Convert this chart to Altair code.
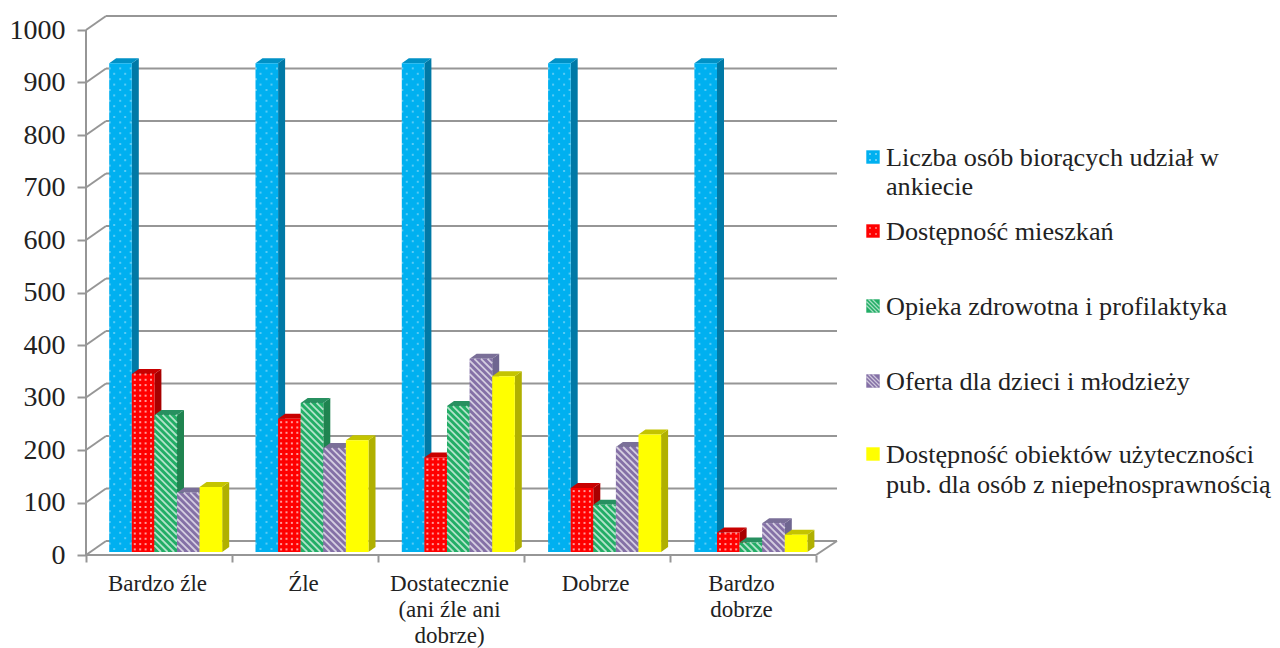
import altair as alt
import pandas as pd

categories = ["Bardzo źle", "Źle", "Dostatecznie (ani źle ani dobrze)", "Dobrze", "Bardzo dobrze"]
series_names = ["Liczba osób biorących udział w ankiecie", "Dostępność mieszkań", "Opieka zdrowotna i profilaktyka",
                "Oferta dla dzieci i młodzieży", "Dostępność obiektów użyteczności pub. dla osób z niepełnosprawnością"]
liczba = [931, 931, 931, 931, 931]
mieszkan = [339, 254, 180, 122, 37]
opieka = [261, 284, 278, 90, 18]
oferta = [113, 198, 368, 200, 55]
obiekty = [124, 213, 335, 224, 33]
all_values = [liczba, mieszkan, opieka, oferta, obiekty]

front = ["#00b0f0", "#ff0000", "#22ad66", "#8470a6", "#ffff00"]
side = ["#0079a6", "#a80000", "#1f8450", "#6f6690", "#b0b000"]
top = ["#0091c6", "#c80000", "#279060", "#7a6f98", "#c4c400"]
textures = ["dots_wide", "dots", "stripes", "stripes", None]
legend_rows = [[("Liczba osób biorących udział w", 158), ("ankiecie", 187)],
               [("Dostępność mieszkań", 232)],
               [("Opieka zdrowotna i profilaktyka", 307)],
               [("Oferta dla dzieci i młodzieży", 382)],
               [("Dostępność obiektów użyteczności", 455), ("pub. dla osób z niepełnosprawnością", 485)]]

GRAY = "#969696"
FONT = "Liberation Serif"
PX_X = 146.0      # pixels per category
PX_Y = 0.525      # pixels per value unit
W, H = 751, 540
OX, OY = 86, 555  # page position of the front origin
XMAX, YMAX = W / PX_X, H / PX_Y
DX, DY = 7 / PX_X, 5 / PX_Y
WALL_X, WALL_Y = 20 / PX_X, 14 / PX_Y
BAR_W = 22.6 / PX_X
BAR_START = 23.2 / PX_X
BASE = 3 / PX_Y

xs = alt.Scale(domain=[0, XMAX], nice=False, zero=False)
ys = alt.Scale(domain=[0, YMAX], nice=False, zero=False)

label_expr = ("[['Bardzo źle'],['Źle'],['Dostatecznie','(ani źle ani','dobrze)'],"
              "['Dobrze'],['Bardzo','dobrze']][datum.value] || ''")
x_axis = alt.Axis(
    values=[0, 1, 2, 3, 4, 5], domain=False, grid=False, tickColor=GRAY, tickWidth=2, tickSize=7, title=None,
    labelFont=FONT, labelFontSize=23, labelColor="#222222", labelOffset=71, labelPadding=10,
    labelBound=False, labelFlush=False, labelOverlap=False, labelLineHeight=26, labelExpr=label_expr)
y_axis = alt.Axis(
    values=list(range(0, 1001, 100)), domain=False, grid=False, tickColor=GRAY, tickWidth=2, tickSize=9, title=None,
    labelFont=FONT, labelFontSize=28, labelColor="#222222", labelPadding=12, labelOverlap=False,
    labelBound=False, labelFlush=False, format="d")


def X(f="x"):
    return alt.X(f, type="quantitative", scale=xs, axis=x_axis)


def Y(f="y"):
    return alt.Y(f, type="quantitative", scale=ys, axis=y_axis, stack=None)


# frame
lines = []
for v in range(0, 1001, 100):
    lines.append(dict(x=0, x2=WALL_X, y=v, y2=v + WALL_Y))
    lines.append(dict(x=WALL_X, x2=XMAX, y=v + WALL_Y, y2=v + WALL_Y))
lines.append(dict(x=0, x2=0, y=0, y2=1000))
lines.append(dict(x=0, x2=5, y=0, y2=0))
lines.append(dict(x=5, x2=XMAX, y=0, y2=WALL_Y))
frame = alt.Chart(pd.DataFrame(lines)).mark_rule(color=GRAY, strokeWidth=2).encode(
    x=X(), x2="x2", y=Y(), y2="y2")

layers = [frame]

# bars, painted left to right so that each front hides the previous side face
for s, values in enumerate(all_values):
    faces_side, faces_top, fronts, rules, dots = [], [], [], [], []
    for c, v in enumerate(values):
        x0 = c * (PX_X + 0.3) / PX_X + BAR_START + s * BAR_W
        x1 = x0 + BAR_W
        yb, yt = BASE, BASE + v
        k = f"{c}-{s}"
        faces_side += [dict(k=k, x=x1, y=yb, y2=yt), dict(k=k, x=x1 + DX, y=yb + DY, y2=yt + DY)]
        faces_top += [dict(k=k, x=x0, y=yt, y2=yt), dict(k=k, x=x0 + DX, y=yt, y2=yt + DY),
                      dict(k=k, x=x1, y=yt, y2=yt + DY), dict(k=k, x=x1 + DX, y=yt + DY, y2=yt + DY)]
        fronts.append(dict(x=x0, x2=x1, y=yb, y2=yt))

        # surface texture, in pixel steps
        px_w, px_h = BAR_W * PX_X, v * PX_Y
        if textures[s] == "stripes":
            step = 6.6
            d = step
            while d < px_w + px_h:
                ax = min(d, px_w)
                bx = max(0.0, d - px_h)
                rules.append(dict(x=x0 + ax / PX_X, y=yb + (d - ax) / PX_Y,
                                  x2=x0 + bx / PX_X, y2=yb + (d - bx) / PX_Y))
                d += step
        elif textures[s] == "dots":
            w = 2.6
            while w < px_h:
                for u in (3.0, 8.4, 13.8, 19.2):
                    dots.append(dict(x=x0 + u / PX_X, y=yb + w / PX_Y))
                w += 5.3
        elif textures[s] == "dots_wide":
            w, row = 3.0, 0
            while w < px_h:
                for u in ((5.0, 16.0) if row % 2 == 0 else (0.5, 11.0, 21.5)):
                    dots.append(dict(x=x0 + u / PX_X, y=yb + w / PX_Y))
                w += 5.4
                row += 1

    layers.append(alt.Chart(pd.DataFrame(faces_side)).mark_area(color=side[s]).encode(
        x=X(), y=Y(), y2="y2", detail="k:N"))
    layers.append(alt.Chart(pd.DataFrame(faces_top)).mark_area(color=top[s]).encode(
        x=X(), y=Y(), y2="y2", detail="k:N"))
    layers.append(alt.Chart(pd.DataFrame(fronts)).mark_bar(color=front[s]).encode(
        x=X(), x2="x2", y=Y(), y2="y2"))
    if rules:
        layers.append(alt.Chart(pd.DataFrame(rules)).mark_rule(
            color="#ffffff", opacity=0.65, strokeWidth=1.8).encode(x=X(), x2="x2", y=Y(), y2="y2"))
    if dots:
        layers.append(alt.Chart(pd.DataFrame(dots)).mark_square(
            color="#ffffff", opacity=0.35 if s == 0 else 0.6, size=4, filled=True).encode(x=X(), y=Y()))

# legend
for s, rows in enumerate(legend_rows):
    sy = rows[0][1] - 1 - OY + H
    sx = 873 - OX
    layers.append(alt.Chart(pd.DataFrame({"a": [s]})).mark_square(
        color=front[s], size=180, filled=True, opacity=1).encode(
        x=alt.value(sx), y=alt.value(sy)))
    if textures[s] == "stripes":
        for off in (-6, -2, 2, 6):
            layers.append(alt.Chart(pd.DataFrame({"a": [s]})).mark_rule(
                color="#ffffff", opacity=0.6, strokeWidth=1.3).encode(
                x=alt.value(sx + max(-6.5, off - 6.5)), x2=alt.value(sx + min(6.5, off + 6.5)),
                y=alt.value(sy + max(-6.5, -off - 6.5)), y2=alt.value(sy + min(6.5, -off + 6.5))))
    elif textures[s]:
        for ox, oy in ((-3, -3), (3, -3), (-3, 3), (3, 3)):
            layers.append(alt.Chart(pd.DataFrame({"a": [s]})).mark_square(
                color="#ffffff", opacity=0.6, size=3, filled=True).encode(
                x=alt.value(sx + ox), y=alt.value(sy + oy)))
    for text, py in rows:
        layers.append(alt.Chart(pd.DataFrame({"t": [text]})).mark_text(
            font=FONT, fontSize=26.2, color="#222222", align="left", baseline="middle").encode(
            x=alt.value(886 - OX), y=alt.value(py - OY + H), text="t:N"))

SVG_W, SVG_H = 1264, 640
pad_left, pad_top = OX - 8, OY - H - 8
chart = alt.layer(*layers).properties(
    width=W, height=H, autosize="none",
    padding={"left": pad_left, "top": pad_top, "right": SVG_W - pad_left - W, "bottom": SVG_H - pad_top - H},
).configure_view(stroke=None)

chart.save("out.html", embed_options={"renderer": "svg", "actions": False})
